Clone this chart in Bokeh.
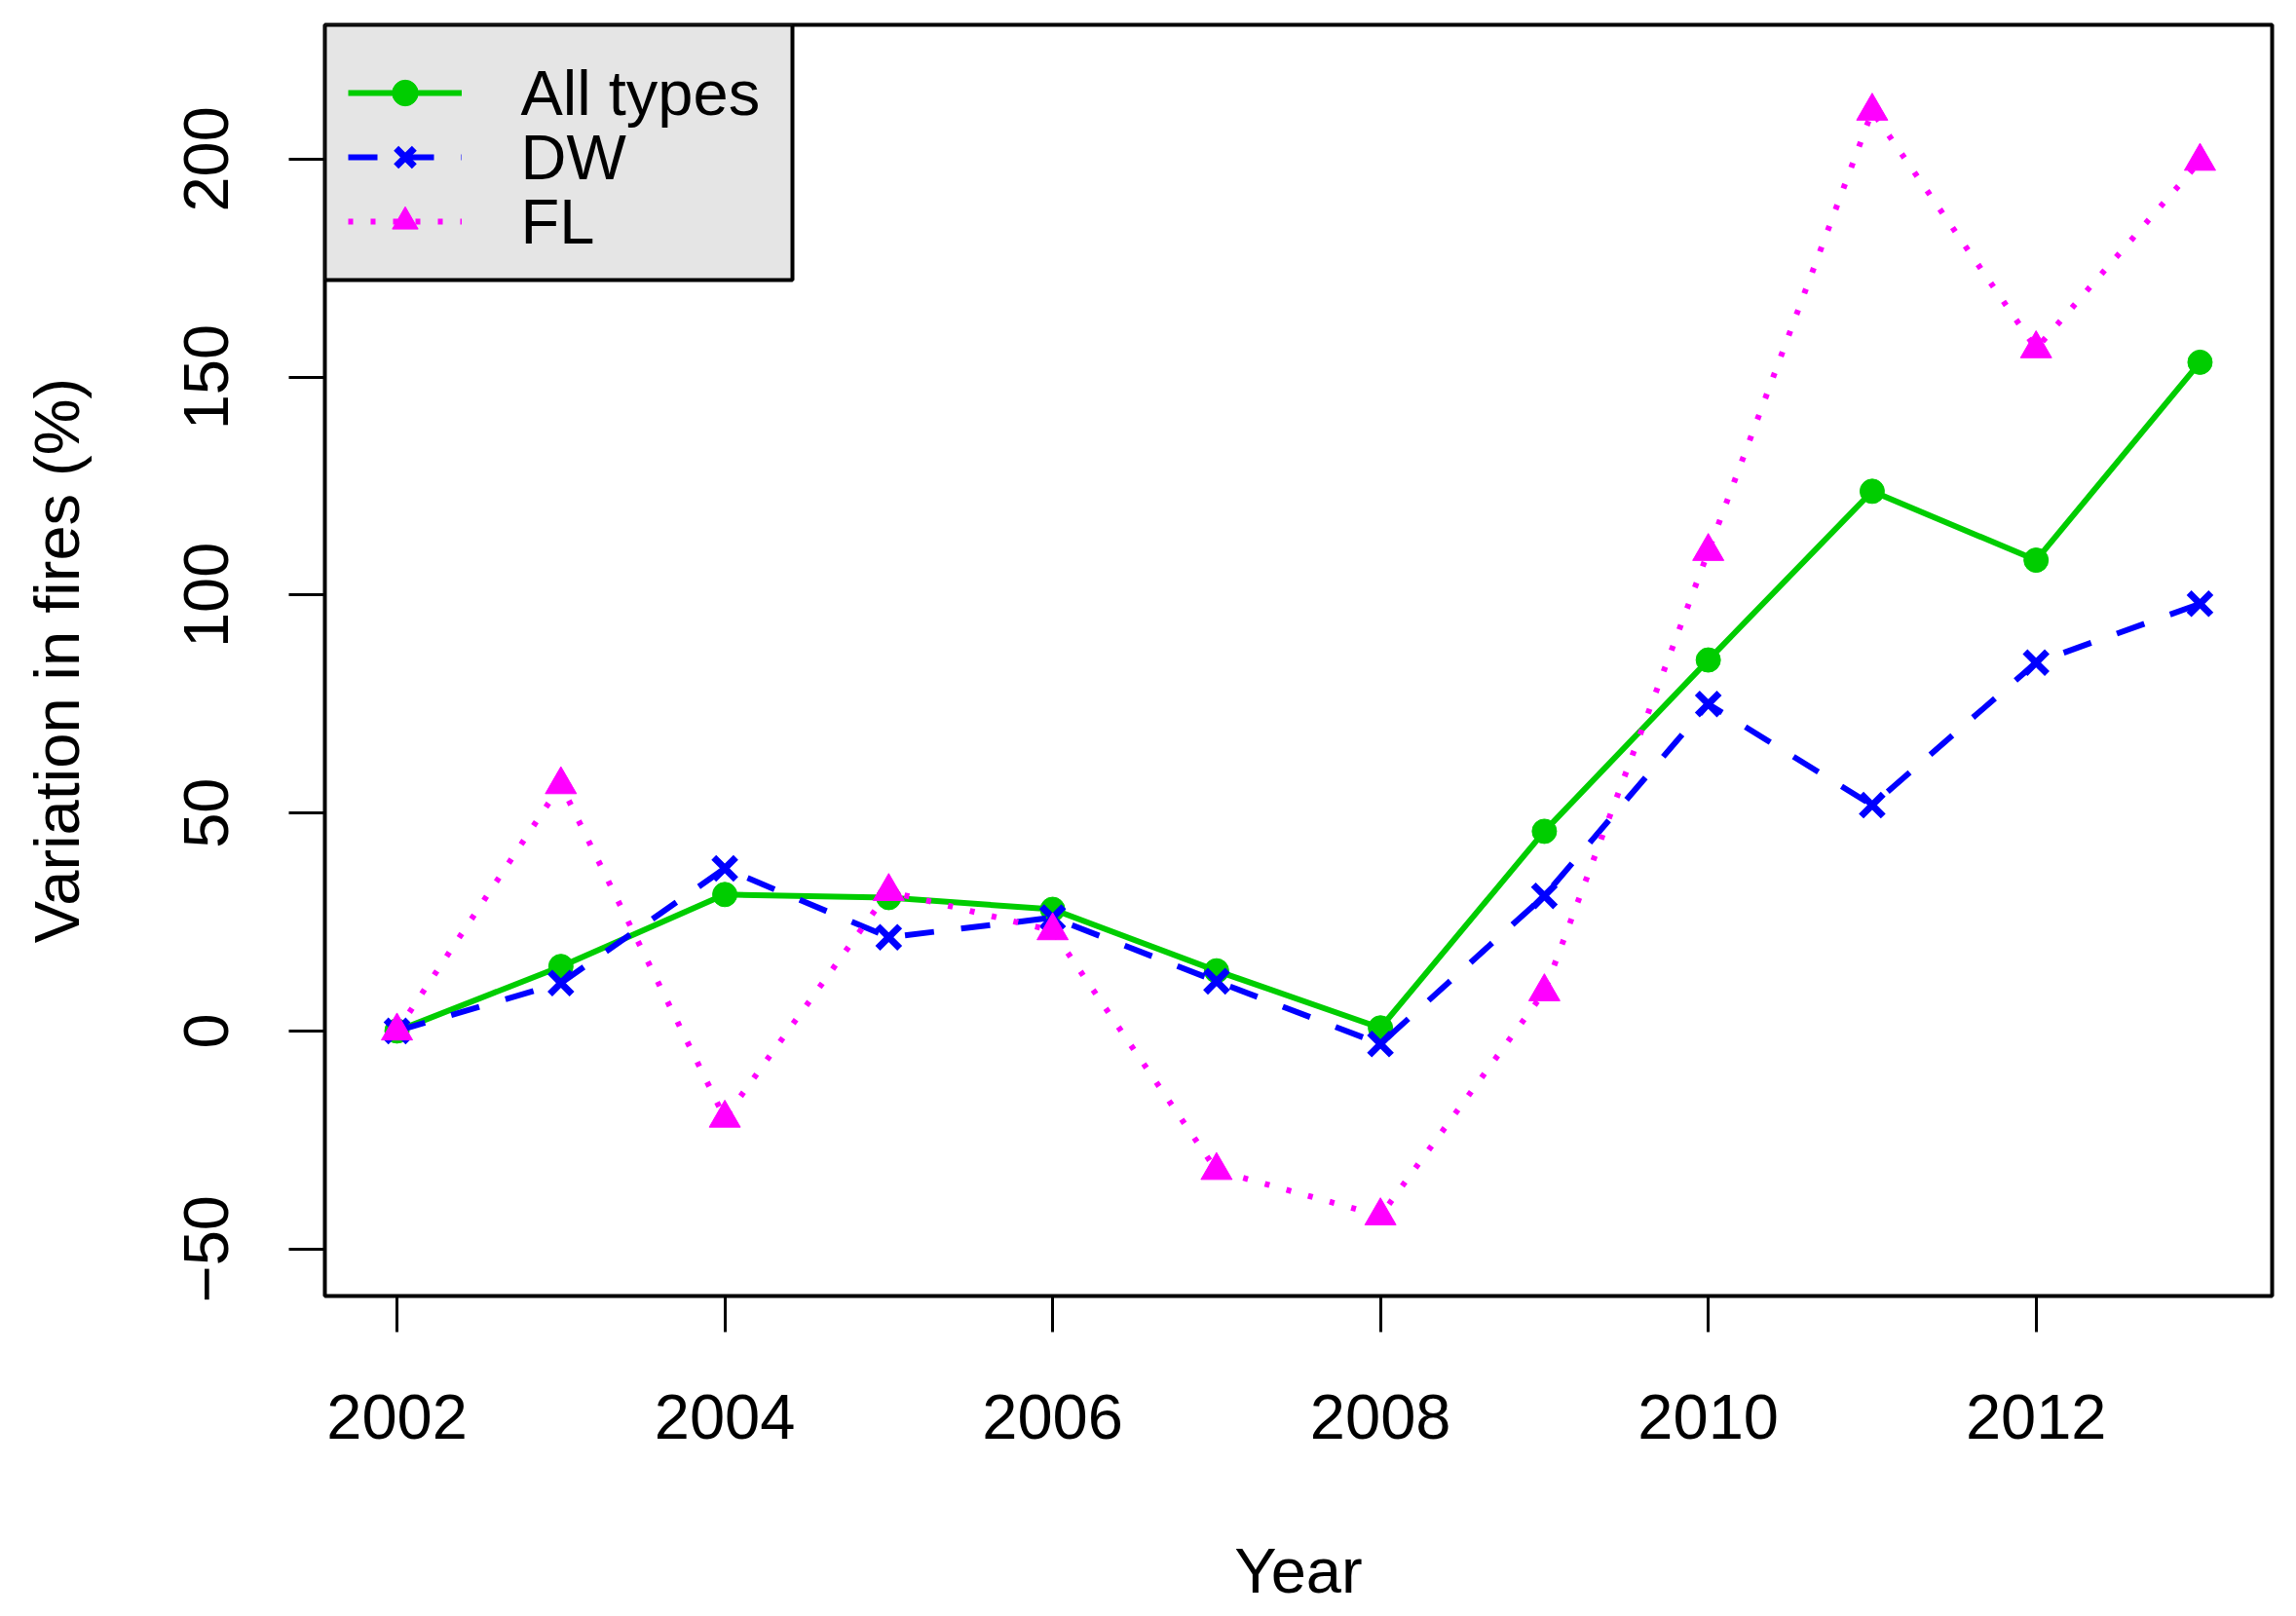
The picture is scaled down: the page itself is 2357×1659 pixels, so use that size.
from bokeh.plotting import figure
from bokeh.models import FixedTicker, Legend, LegendItem, Range1d, Label, BoxAnnotation
from bokeh.core.properties import value
from bokeh.embed import file_html
from bokeh.resources import INLINE

years = [2002, 2003, 2004, 2005, 2006, 2007, 2008, 2009, 2010, 2011, 2012, 2013]
all_types = [0, 14.8, 31.3, 30.6, 27.9, 13.8, 0.7, 45.8, 85.1, 123.8, 108, 153.4]
dw = [0, 11, 37.3, 21.5, 26, 11.4, -3, 31, 75, 51.8, 84.5, 98]
fl = [0, 56.5, -20, 32, 23, -32, -42.4, 9, 110, 211, 156.5, 199.5]
series_names = ["All types", "DW", "FL"]
x_ticks = [2002, 2004, 2006, 2008, 2010, 2012]
y_ticks = [-50, 0, 50, 100, 150, 200]

FONT = "Liberation Sans"
FS = "65px"

X0, X1 = 2001.56, 2013.44
Y0, Y1 = -60.8, 230.8
FRAME_W, FRAME_H = 1999.0, 1305.0   # frame size in px (layout)
def px_x(dx):
    return X0 + dx * (X1 - X0) / FRAME_W
def px_y(dy):
    return Y1 - dy * (Y1 - Y0) / FRAME_H

xr = Range1d(X0, X1)
yr = Range1d(Y0, Y1)
p = figure(width=2340, height=1651, output_backend="svg", toolbar_location=None,
           x_range=xr, y_range=yr,
           min_border_left=333, min_border_right=8, min_border_top=25, min_border_bottom=100)
p.grid.visible = False
p.outline_line_color = "black"
p.outline_line_width = 4
p.background_fill_color = "white"
p.border_fill_color = "white"

for ax in (p.xaxis[0], p.yaxis[0]):
    ax.axis_line_color = None
    ax.major_tick_out = 37
    ax.major_tick_in = 0
    ax.major_tick_line_width = 3
    ax.major_tick_line_color = "black"
    ax.minor_tick_line_color = None
    ax.major_label_text_font = FONT
    ax.major_label_text_font_size = FS
    ax.major_label_text_color = "black"
    ax.axis_label_text_font = FONT
    ax.axis_label_text_font_size = FS
    ax.axis_label_text_font_style = "normal"
    ax.axis_label_text_color = "black"

p.xaxis.ticker = FixedTicker(ticks=x_ticks)
p.yaxis.ticker = FixedTicker(ticks=y_ticks)
p.xaxis.axis_label = "Year"
p.yaxis.axis_label = "Variation in fires (%)"
p.xaxis.major_label_standoff = 64
p.xaxis.axis_label_standoff = 96
p.yaxis.major_label_orientation = "vertical"
p.yaxis.major_label_standoff = 62
p.yaxis.axis_label_standoff = 92

GREEN = "#00CD00"
BLUE = "#0000FF"
MAG = "#FF00FF"

# legend box (grey, black border)
p.add_layout(BoxAnnotation(left=X0, right=px_x(480), top=Y1, bottom=px_y(262),
                           fill_color="#E5E5E5", fill_alpha=1,
                           line_color="black", line_width=4, line_alpha=1,
                           level="underlay"))

l1 = p.line(years, all_types, line_color=GREEN, line_width=6)
m1 = p.scatter(years, all_types, marker="circle", size=25, fill_color=GREEN, line_color=GREEN)
l2 = p.line(years, dw, line_color=BLUE, line_width=6, line_dash="30 28")
m2 = p.scatter(years, dw, marker="x", size=32, line_color=BLUE, line_width=7)
l3 = p.line(years, fl, line_color=MAG, line_width=6, line_dash="5 18")
m3 = p.scatter(years, fl, marker="triangle", size=32, fill_color=MAG, line_color=MAG)

# legend glyph samples (transparent legend); text drawn as labels
legend = Legend(items=[
    LegendItem(label=value(" "), renderers=[l1, m1]),
    LegendItem(label=value("  "), renderers=[l2, m2]),
    LegendItem(label=value("   "), renderers=[l3, m3]),
], location="top_left")
legend.margin = 24
legend.padding = 0
legend.spacing = 0
legend.title = " "
legend.title_text_font_size = "8px"
legend.title_standoff = 4
legend.glyph_width = 117
legend.glyph_height = 66
legend.label_height = 66
legend.label_width = 298
legend.label_standoff = 0
legend.label_text_font_size = "2px"
legend.background_fill_alpha = 0
legend.border_line_color = None
p.add_layout(legend)

for i, name in enumerate(series_names):
    p.add_layout(Label(x=px_x(201), y=px_y(70 + 66 * i), x_units="data", y_units="data",
                       text=name, text_font=FONT, text_font_size=FS, text_color="black",
                       text_baseline="middle", text_align="left", level="overlay"))

open("out.html", "w").write(file_html(p, INLINE))
